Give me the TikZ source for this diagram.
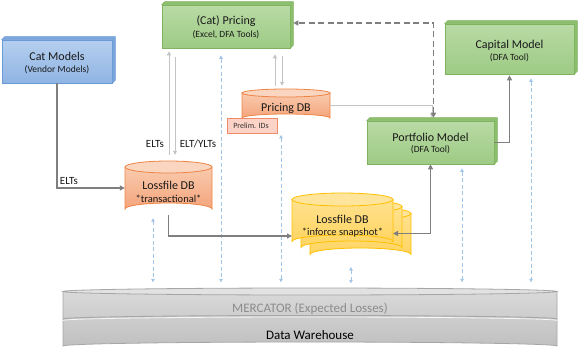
\documentclass[tikz,border=0pt]{standalone}
\usepackage{fontspec}
\setmainfont{Carlito}
\usetikzlibrary{arrows.meta}
\definecolor{gtop}{HTML}{B9DAA5}
\definecolor{gbot}{HTML}{9DCB84}
\definecolor{gbrd}{HTML}{7FB35F}
\definecolor{gside}{HTML}{8CBF6C}
\definecolor{btop}{HTML}{B5CFEF}
\definecolor{bbot}{HTML}{8FB4E3}
\definecolor{bbrd}{HTML}{6A9AD6}
\definecolor{bside}{HTML}{7AA6DD}
\definecolor{otop}{HTML}{F9CBAE}
\definecolor{obot}{HTML}{F4A47B}
\definecolor{ocap}{HTML}{FAD5C0}
\definecolor{obrd}{HTML}{EE8446}
\definecolor{ytop}{HTML}{FFE28F}
\definecolor{ybot}{HTML}{FFD461}
\definecolor{ycap}{HTML}{FFE49C}
\definecolor{ybrd}{HTML}{FFC000}
\definecolor{pfill}{HTML}{FCD3C6}
\definecolor{pbrd}{HTML}{F08A68}
\definecolor{dgray}{HTML}{7F7F7F}
\definecolor{lgray}{HTML}{C4C4C4}
\definecolor{lblue}{HTML}{A2C6E8}
\definecolor{mtop}{HTML}{D9D9D9}
\definecolor{mbot}{HTML}{C0C0C0}
\definecolor{mcap}{HTML}{E2E2E2}
\definecolor{mbrd}{HTML}{A6A6A6}
\definecolor{mtext}{HTML}{8C8C8C}
\newcommand\boxdepthfaces[3]{%
  \path[fill=#2,draw=#3,line width=0.5pt] (#1.north west) -- ++(3,-3) -- ([shift={(3,-3)}]#1.north east) -- ([shift={(3,-3)}]#1.south east) -- (#1.south east) -- (#1.north east) -- cycle;}
\newcommand\drawcyl[9]{%
  \path[top color=#6,bottom color=#7,draw=#8,line width=0.8pt] (#1-#4,#2) -- (#1-#4,#3) arc[start angle=180,end angle=360,x radius=#4,y radius=#5] -- (#1+#4,#2) -- cycle;
  \path[fill=#9,draw=#8,line width=0.8pt] (#1,#2) ellipse[x radius=#4,y radius=#5];}
\begin{document}
\begin{tikzpicture}[x=1pt,y=-1pt,
  boxn/.style={rectangle,inner sep=0pt,line width=0.6pt},
  gbox/.style={boxn,draw=gbrd,top color=gtop,bottom color=gbot},
  bbox/.style={boxn,draw=bbrd,top color=btop,bottom color=bbot},
  ghost/.style={rectangle,inner sep=0pt},
  ttl/.style={anchor=base,inner sep=0pt,font=\fontsize{12}{14}\selectfont,text=black!90},
  sub/.style={anchor=base,inner sep=0pt,font=\fontsize{9.5}{11}\selectfont,text=black!90},
  csub/.style={anchor=base,inner sep=0pt,font=\fontsize{10.5}{12}\selectfont,text=black!90},
  lbl/.style={anchor=base,inner sep=0pt,font=\fontsize{11}{13}\selectfont,text=black!90},
  darr/.style={draw=dgray,line width=1.5pt,-{Triangle[length=5pt,width=5pt]}},
  ddarr/.style={draw=dgray,line width=1.5pt,{Triangle[length=5pt,width=5pt]}-{Triangle[length=5pt,width=5pt]}},
  dasharr/.style={draw=dgray,line width=1.8pt,dash pattern=on 6pt off 3.5pt,{Triangle[length=5pt,width=5pt]}-{Triangle[length=5pt,width=5pt]}},
  larr/.style={draw=lgray,line width=1pt,-{Triangle[length=4pt,width=4pt]}},
  barr/.style={draw=lblue,line width=1pt,dash pattern=on 4pt off 2.5pt,{Triangle[length=3.5pt,width=3.5pt]}-{Triangle[length=3.5pt,width=3.5pt]}}
]
\useasboundingbox (0,0) rectangle (578,351);

% ---------- Data warehouse disk ----------
\path[top color=mtop,bottom color=mbot,draw=mbrd,line width=0.8pt] (63,291.5) -- (63,346) arc[start angle=180,end angle=360,x radius=247,y radius=4] -- (557,291.5) -- cycle;
\path[fill=mcap,draw=mbrd,line width=0.8pt] (310,291.5) ellipse[x radius=247,y radius=3.5];
\draw[mbrd,line width=0.9pt] (63,319) arc[start angle=180,end angle=360,x radius=247,y radius=3.5];
\draw[white!90!mbrd,line width=0.8pt] (63,320.5) arc[start angle=180,end angle=360,x radius=247,y radius=3.5];
\node[ghost,minimum width=494,minimum height=62] (merc) at (310,318.5) {};
\node[anchor=base,inner sep=0pt,font=\fontsize{13}{15}\selectfont,text=mtext] (merctext) at (310,312.5) {MERCATOR (Expected Losses)};
\node[anchor=base,inner sep=0pt,font=\fontsize{13}{15}\selectfont,text=black] (dwtext) at (310,339.5) {Data Warehouse};

% ---------- light blue connectors to the warehouse ----------
\coordinate (m1) at (153,0);
\coordinate (m2) at (221,0);
\coordinate (m3) at (281,0);
\coordinate (m4) at (351,0);
\coordinate (m5) at (462,0);
\coordinate (m6) at (531,0);
\coordinate (lfib) at (351,262);

% ---------- boxes ----------
\node[bbox,minimum width=110,minimum height=43] (catm) at (57,61.5) {};
\boxdepthfaces{catm}{bside}{bbrd}
\node[ttl] (catmt) at (57,60) {Cat Models};
\node[sub] (catms) at (57,72.5) {(Vendor Models)};

\node[gbox,minimum width=128,minimum height=43] (pricing) at (226,26.5) {};
\boxdepthfaces{pricing}{gside}{gbrd}
\node[ttl] (pricingt) at (226,24) {(Cat) Pricing};
\node[sub] (pricings) at (226,37.5) {(Excel, DFA Tools)};

\node[gbox,minimum width=129,minimum height=50] (capital) at (509.5,49) {};
\boxdepthfaces{capital}{gside}{gbrd}
\node[ttl] (capitalt) at (509.5,48) {Capital Model};
\node[sub] (capitals) at (509.5,60.5) {(DFA Tool)};

\node[gbox,minimum width=127,minimum height=43] (portfolio) at (430.5,142.5) {};
\boxdepthfaces{portfolio}{gside}{gbrd}
\node[ttl] (portfoliot) at (430.5,141) {Portfolio Model};
\node[sub] (portfolios) at (430.5,152.5) {(DFA Tool)};

% ---------- Pricing DB ----------
\drawcyl{286}{93}{118}{44}{4}{otop}{obot}{obrd}{ocap}
\node[ghost,minimum width=88,minimum height=33] (pdb) at (286,105.5) {};
\node[ttl] (pdbt) at (286,111) {Pricing DB};
\node[rectangle,draw=pbrd,fill=pfill,line width=0.6pt,minimum width=50,minimum height=15,inner sep=0pt] (prelim) at (252,126) {};
\node[anchor=base,inner sep=0pt,font=\fontsize{8}{9}\selectfont,text=black!80] (prelimt) at (251,128.8) {Prelim. IDs};

% ---------- Lossfile DB transactional ----------
\drawcyl{168.5}{167}{209}{43.5}{6}{otop}{obot}{obrd}{ocap}
\node[ghost,minimum width=87,minimum height=54] (lft) at (168.5,188) {};
\node[ttl] (lftt) at (168.5,189) {Lossfile DB};
\node[csub] (lfts) at (168.5,202.5) {*transactional*};

% ---------- Lossfile DB inforce (stack) ----------
\drawcyl{360.5}{213.5}{254.5}{50.5}{6.5}{ytop}{ybot}{ybrd}{ycap}
\drawcyl{351.5}{206.5}{247.5}{50.5}{6.5}{ytop}{ybot}{ybrd}{ycap}
\drawcyl{342.5}{199.5}{241.5}{50.5}{6.5}{ytop}{ybot}{ybrd}{ycap}
\node[ghost,minimum width=101,minimum height=55] (lfi) at (342.5,220.5) {};
\node[ttl] (lfit) at (342.5,223) {Lossfile DB};
\node[csub] (lfis) at (342.5,235.5) {*inforce snapshot*};
\coordinate (lfiw) at (292,236);
\coordinate (lfie) at (393,233.5);

% ---------- light blue dashed ----------
\draw[barr,shorten <=3pt,shorten >=5pt] (lft.south -| m1) -- (merc.north -| m1);
\draw[barr,shorten <=7pt,shorten >=5pt] (pricing.south -| m2) -- (merc.north -| m2);
\draw[barr,shorten <=1pt,shorten >=5pt] (prelim.south -| m3) -- (merc.north -| m3);
\draw[barr,shorten <=5pt,shorten >=4pt] (lfib) -- (merc.north -| m4);
\draw[barr,shorten <=4pt,shorten >=5pt] (portfolio.south -| m5) -- (merc.north -| m5);
\draw[barr,shorten <=4pt,shorten >=5pt] (capital.south -| m6) -- (merc.north -| m6);

% ---------- light gray connectors ----------
\coordinate (a1) at (169,0);
\coordinate (a2) at (175,0);
\coordinate (a3) at (275,0);
\coordinate (a4) at (282,0);
\coordinate (a5) at (432,0);
\draw[larr,shorten <=6pt,shorten >=3pt] (lft.north -| a1) -- (pricing.south -| a1);
\draw[larr,shorten <=9pt,shorten >=6pt] (pricing.south -| a2) -- (lft.north -| a2);
\draw[larr,shorten <=3pt,shorten >=6pt] (pdb.north -| a3) -- (pricing.south -| a3);
\draw[larr,shorten <=8pt,shorten >=3pt] (pricing.south -| a4) -- (pdb.north -| a4);
\draw[larr,shorten >=3pt] (pdb.east) -| (portfolio.north -| a5);
\node[lbl] (elt1) at (155,147.6) {ELTs};
\node[lbl] (elt2) at (198,147.6) {ELT/YLTs};

% ---------- dark gray connectors ----------
\coordinate (dtop) at (433.5,23);
\draw[darr] (catm.south) |- (lft.west);
\node[lbl] (elt3) at (69,184.6) {ELTs};
\draw[darr] (lft.south) |- (lfiw);
\draw[ddarr] (lfie) -| (portfolio.south);
\draw[darr,shorten >=1pt] (portfolio.east) -| (capital.south);
\draw[dasharr,shorten <=3pt,shorten >=3pt] (portfolio.north -| dtop) |- (pricing.east |- dtop);
\end{tikzpicture}
\end{document}
